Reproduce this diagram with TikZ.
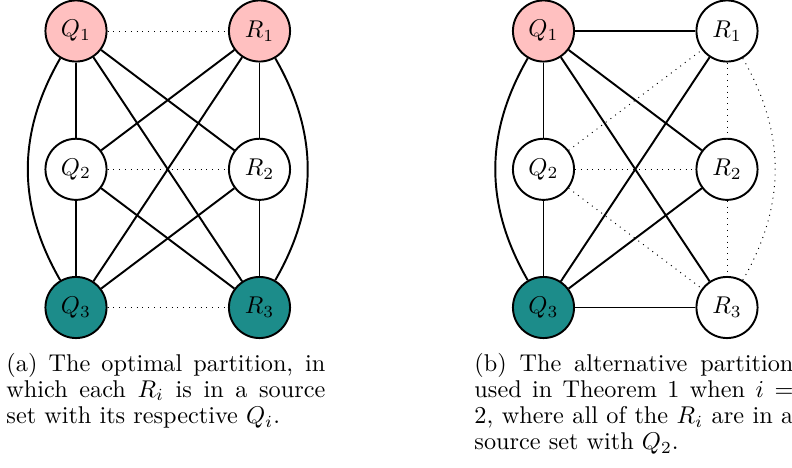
\documentclass[tikz,border=0pt]{standalone}
\definecolor{qpink}{RGB}{255,192,192}
\definecolor{qteal}{RGB}{28,140,138}
\begin{document}
\begin{tikzpicture}[x=0.41237pt,y=-0.41237pt,
  vtx/.style={circle,draw,line width=0.8pt,minimum size=25.2pt,inner sep=0pt,font=\fontsize{10}{12}\selectfont},
  pinkv/.style={vtx,fill=qpink},
  tealv/.style={vtx,fill=qteal},
  sedge/.style={line width=0.8pt},
  dedge/.style={line width=0.4pt,dotted},
  capt/.style={anchor=base west,inner sep=0pt,text width=131.5pt,align=justify,
    font=\fontsize{10}{10.85}\selectfont}]
\useasboundingbox (0,0) rectangle (792,468);
\clip (0,0) rectangle (792,468);

% ---------- (a) ----------
\node[pinkv] (aQ1) at (76,31) {$Q_1$};
\node[pinkv] (aR1) at (259.5,31) {$R_1$};
\node[vtx]   (aQ2) at (76,169.3) {$Q_2$};
\node[vtx]   (aR2) at (259.5,169.3) {$R_2$};
\node[tealv] (aQ3) at (76,307.5) {$Q_3$};
\node[tealv] (aR3) at (259.5,307.5) {$R_3$};

\draw[dedge] (aQ1) -- (aR1);
\draw[dedge] (aQ2) -- (aR2);
\draw[dedge] (aQ3) -- (aR3);

\draw[sedge] (aQ1) -- (aQ2);
\draw[sedge] (aQ1) -- (aR2);
\draw[sedge] (aQ1) -- (aR3);
\draw[sedge] (aQ1) to[bend right=30] (aQ3);
\draw[sedge] (aR1) -- (aQ2);
\draw[sedge] (aR1) -- (aQ3);
\draw[sedge] (aR1) -- (aR2);
\draw[sedge] (aR1) to[bend left=30] (aR3);
\draw[sedge] (aQ2) -- (aQ3);
\draw[sedge] (aQ2) -- (aR3);
\draw[sedge] (aR2) -- (aQ3);
\draw[sedge] (aR2) -- (aR3);

\node[capt] (capa) at (6,371) {(a) The optimal partition, in\linebreak
which each $R_i$ is in a source\linebreak set with its respective $Q_i$.};

% ---------- (b) ----------
\node[pinkv] (bQ1) at (543.5,31) {$Q_1$};
\node[vtx]   (bR1) at (727,31) {$R_1$};
\node[vtx]   (bQ2) at (543.5,169.3) {$Q_2$};
\node[vtx]   (bR2) at (727,169.3) {$R_2$};
\node[tealv] (bQ3) at (543.5,307.5) {$Q_3$};
\node[vtx]   (bR3) at (727,307.5) {$R_3$};

\draw[dedge] (bQ2) -- (bR1);
\draw[dedge] (bQ2) -- (bR2);
\draw[dedge] (bQ2) -- (bR3);
\draw[dedge] (bR1) -- (bR2);
\draw[dedge] (bR2) -- (bR3);
\draw[dedge] (bR1) to[bend left=30] (bR3);

\draw[sedge] (bQ1) -- (bR1);
\draw[sedge] (bQ1) -- (bQ2);
\draw[sedge] (bQ1) -- (bR2);
\draw[sedge] (bQ1) -- (bR3);
\draw[sedge] (bQ1) to[bend right=30] (bQ3);
\draw[sedge] (bQ2) -- (bQ3);
\draw[sedge] (bQ3) -- (bR1);
\draw[sedge] (bQ3) -- (bR2);
\draw[sedge] (bQ3) -- (bR3);

\node[capt] (capb) at (474,371) {(b) The alternative partition\linebreak
used in Theorem 1 when $i =$\linebreak $2$, where all of the $R_i$ are in a\linebreak source set with $Q_2$.};
\end{tikzpicture}
\end{document}
